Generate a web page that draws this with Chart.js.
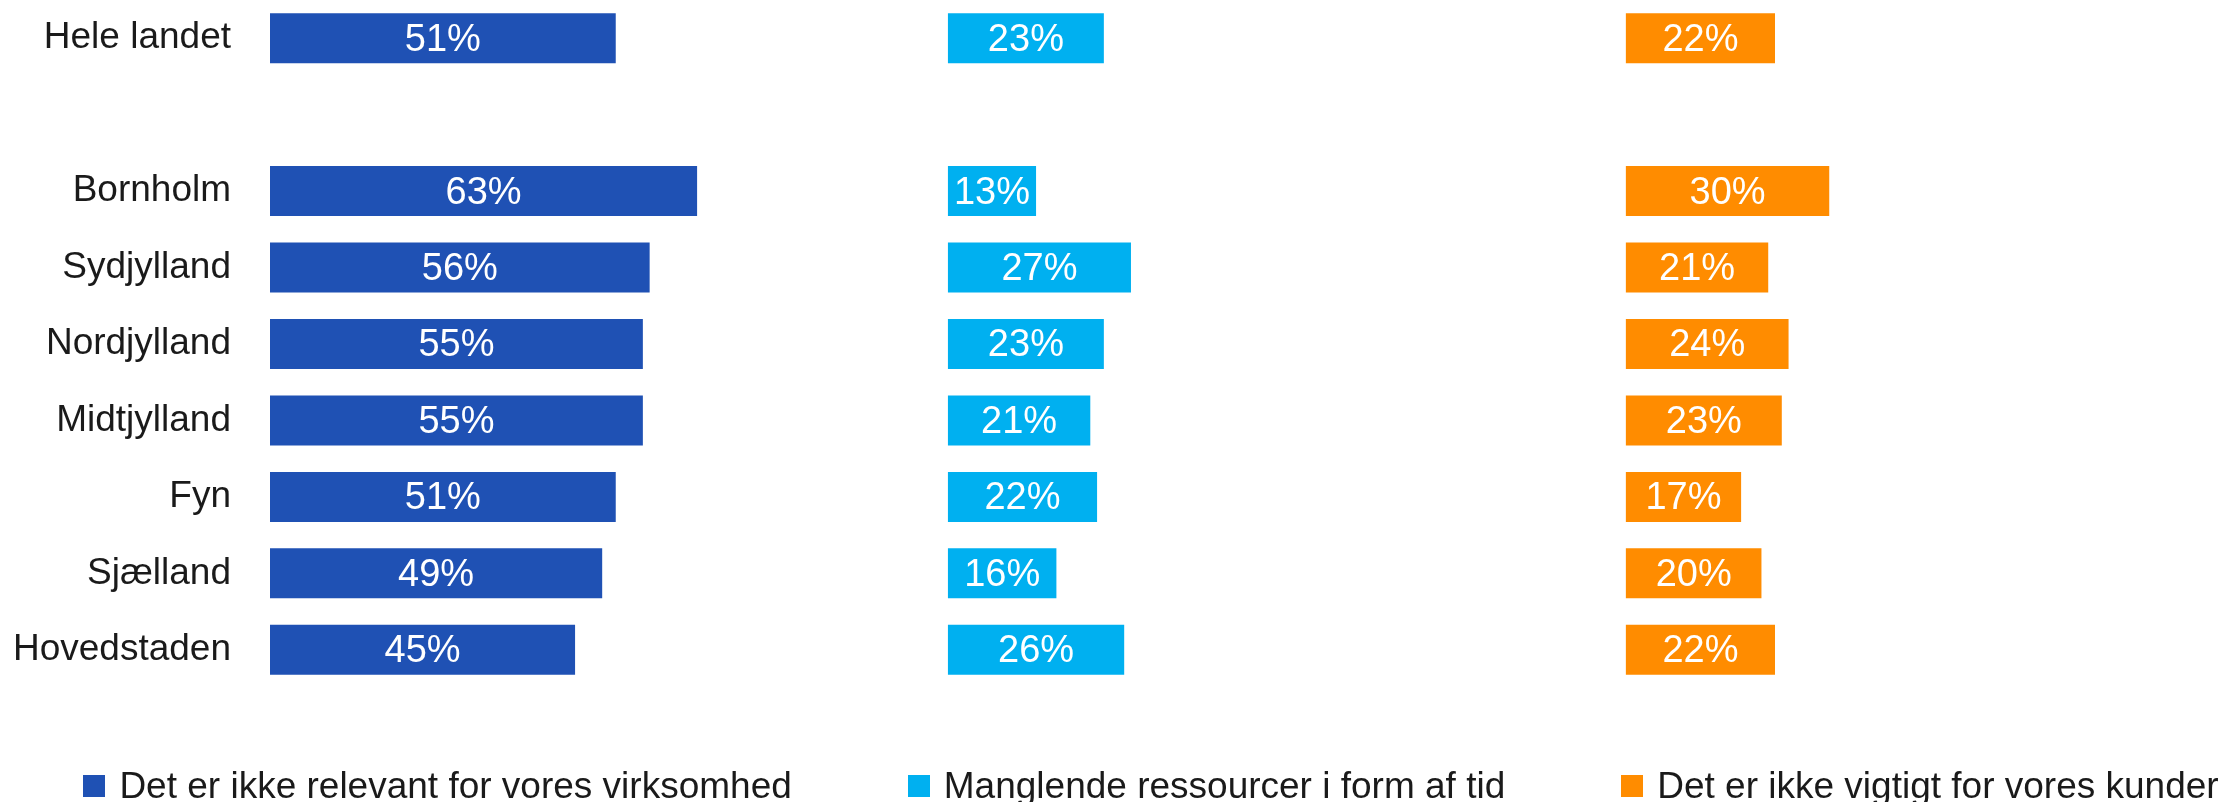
<!DOCTYPE html>
<html>
<head>
<meta charset="utf-8">
<script src="https://cdn.jsdelivr.net/npm/chart.js@4"></script>
<style>
  html, body { margin: 0; padding: 0; background: #fff; }
  #wrap { position: relative; width: 2236px; height: 802px; }
  #legend {
    position: absolute; left: 0; top: 762px; width: 2236px; height: 48px;
    display: flex; justify-content: center; align-items: center; gap: 116px;
    padding-left: 66px; box-sizing: border-box;
    font-family: "Liberation Sans", Arial, sans-serif; font-size: 37px; color: #1a1a1a;
  }
  #legend .item { display: flex; align-items: center; white-space: nowrap; }
  #legend .box { width: 22px; height: 22px; margin-right: 14px; }
</style>
</head>
<body>
<div id="wrap">
  <canvas id="reasonsChart" width="2236" height="802"></canvas>
  <div id="legend"></div>
</div>
<script>
const categories = ['Hele landet', '', 'Bornholm', 'Sydjylland', 'Nordjylland', 'Midtjylland', 'Fyn', 'Sjælland', 'Hovedstaden'];
const notRelevant = [51, null, 63, 56, 55, 55, 51, 49, 45];
const noTime = [23, null, 13, 27, 23, 21, 22, 16, 26];
const notForCustomers = [22, null, 30, 21, 24, 23, 17, 20, 22];
const seriesNames = ['Det er ikke relevant for vores virksomhed', 'Manglende ressourcer i form af tid', 'Det er ikke vigtigt for vores kunder'];
const seriesColors = ['#1f51b4', '#00b0f0', '#ff8c00'];

// each series gets its own 100-point column on the x axis
const columnWidth = 100;
function toRange(values, col) {
  return values.map(v => v == null ? null : [col * columnWidth, col * columnWidth + v]);
}

const valueLabels = {
  id: 'valueLabels',
  afterDatasetsDraw(chart) {
    const ctx = chart.ctx;
    ctx.save();
    ctx.font = '38px "Liberation Sans", Arial, sans-serif';
    ctx.fillStyle = '#ffffff';
    ctx.textAlign = 'center';
    ctx.textBaseline = 'middle';
    chart.data.datasets.forEach((ds, i) => {
      chart.getDatasetMeta(i).data.forEach((bar, j) => {
        const raw = ds.values[j];
        if (raw == null) return;
        ctx.fillText(raw + '%', (bar.x + bar.base) / 2, bar.y + 2);
      });
    });
    ctx.restore();
  }
};

const seriesValues = [notRelevant, noTime, notForCustomers];

const chart = new Chart(document.getElementById('reasonsChart').getContext('2d'), {
  type: 'bar',
  data: {
    labels: categories,
    datasets: seriesValues.map((vals, i) => ({
      label: seriesNames[i],
      values: vals,
      data: toRange(vals, i),
      backgroundColor: seriesColors[i],
      borderWidth: 0,
      grouped: false,
      barPercentage: 0.654,
      categoryPercentage: 1
    }))
  },
  options: {
    indexAxis: 'y',
    responsive: false,
    animation: false,
    layout: { padding: { top: 0, right: 0, bottom: 114, left: 0 } },
    scales: {
      x: { display: false, min: 0, max: 290 },
      y: {
        grid: { display: false },
        border: { display: false },
        ticks: {
          padding: 31,
          color: '#1a1a1a',
          font: { family: '"Liberation Sans", Arial, sans-serif', size: 37 }
        },
        afterFit(scale) {
          scale.width = 270;
          scale.paddingTop = 0;
          scale.paddingBottom = 0;
        }
      }
    },
    plugins: {
      legend: { display: false },
      tooltip: { enabled: false }
    }
  },
  plugins: [valueLabels]
});

// legend built from the chart's datasets
const legendEl = document.getElementById('legend');
chart.data.datasets.forEach(ds => {
  const item = document.createElement('div');
  item.className = 'item';
  item.innerHTML = '<span class="box" style="background:' + ds.backgroundColor + '"></span><span>' + ds.label + '</span>';
  legendEl.appendChild(item);
});
</script>
</body>
</html>
